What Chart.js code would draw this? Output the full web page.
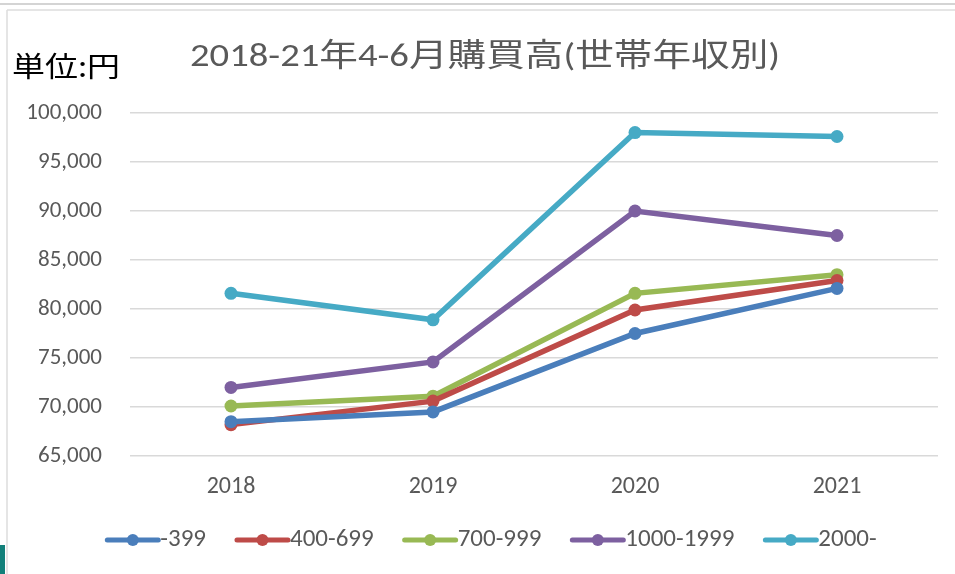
<!DOCTYPE html>
<html>
<head>
<meta charset="utf-8">
<script src="https://cdn.jsdelivr.net/npm/chart.js@4.4.1/dist/chart.umd.min.js"></script>
<style>
  html, body { margin: 0; padding: 0; background: #ffffff; }
  #wrap { position: relative; width: 955px; height: 574px; }
  canvas { display: block; }
</style>
</head>
<body>
<div id="wrap"><canvas id="c" width="955" height="574"></canvas></div>
<script>
// ---- data ----
const years = ['2018', '2019', '2020', '2021'];
const seriesNames = ['-399', '400-699', '700-999', '1000-1999', '2000-'];
const s399 = [68500, 69500, 77500, 82100];
const s400_699 = [68200, 70600, 79900, 82900];
const s700_999 = [70100, 71100, 81600, 83500];
const s1000_1999 = [72000, 74600, 90000, 87500];
const s2000 = [81600, 78900, 98000, 97600];
const yTicks = [65000, 70000, 75000, 80000, 85000, 90000, 95000, 100000];
const titleText = '2018-21年4-6月購買高(世帯年収別)';
const unitText = '単位:円';

const seriesValues = [s399, s400_699, s700_999, s1000_1999, s2000];
const colors = ['#4A7EBB', '#BE4B48', '#98B954', '#7D60A0', '#46AAC5'];
const FONT = "Carlito, 'Liberation Sans Narrow', 'Noto Sans', sans-serif";
const TEXT = '#595959';

function fitText(ctx, text, x, y, targetW, align) {
  const w = ctx.measureText(text).width;
  const sx = targetW / w;
  ctx.save();
  ctx.translate(x, y);
  ctx.scale(sx, 1);
  ctx.textAlign = align;
  ctx.fillText(text, 0, 0);
  ctx.restore();
}

const decor = {
  id: 'decor',
  beforeDraw(chart) {
    const ctx = chart.ctx;
    ctx.save();
    ctx.fillStyle = '#ffffff';
    ctx.fillRect(0, 0, chart.width, chart.height);
    ctx.strokeStyle = '#d4d4d4';
    ctx.lineWidth = 2;
    ctx.beginPath(); ctx.moveTo(0, 4); ctx.lineTo(955, 4); ctx.stroke();
    ctx.strokeStyle = '#dcdcdc';
    ctx.lineWidth = 1.5;
    ctx.beginPath(); ctx.moveTo(7, 10); ctx.lineTo(955, 10); ctx.stroke();
    ctx.beginPath(); ctx.moveTo(7, 10); ctx.lineTo(7, 574); ctx.stroke();
    ctx.fillStyle = '#12807a';
    ctx.fillRect(0, 545, 5, 29);
    ctx.restore();
  },
  afterDraw(chart) {
    const ctx = chart.ctx;
    ctx.save();
    // title
    ctx.fillStyle = TEXT;
    ctx.textBaseline = 'middle';
    ctx.font = "32px " + FONT.replace("sans-serif", "'Noto Sans CJK JP', sans-serif");
    fitText(ctx, titleText, 190, 58, 590, 'left');
    // unit label
    ctx.fillStyle = '#000000';
    ctx.font = "28px 'Noto Sans CJK JP', sans-serif";
    fitText(ctx, unitText, 12, 66, 108, 'left');
    // legend
    ctx.font = '25px ' + FONT;
    const lineW = 55, gap = 29;
    const items = chart.data.datasets.map(d => ({ label: d.label, color: d.borderColor, tw: ctx.measureText(d.label).width }));
    let total = 0;
    items.forEach((it, i) => { total += lineW + it.tw + (i < items.length - 1 ? gap : 0); });
    let x = 491 - total / 2;
    const y = 540;
    items.forEach(it => {
      ctx.strokeStyle = it.color;
      ctx.lineWidth = 5;
      ctx.lineCap = 'round';
      ctx.beginPath(); ctx.moveTo(x + 2, y); ctx.lineTo(x + lineW - 2, y); ctx.stroke();
      ctx.fillStyle = it.color;
      ctx.beginPath(); ctx.arc(x + lineW / 2, y, 6, 0, Math.PI * 2); ctx.fill();
      ctx.fillStyle = TEXT;
      ctx.textAlign = 'left';
      ctx.textBaseline = 'middle';
      ctx.fillText(it.label, x + lineW, y);
      x += lineW + it.tw + gap;
    });
    ctx.restore();
  }
};

new Chart(document.getElementById('c'), {
  type: 'line',
  data: {
    labels: years,
    datasets: seriesNames.map((name, i) => ({
      label: name,
      data: seriesValues[i],
      borderColor: colors[i],
      backgroundColor: colors[i],
      pointBackgroundColor: colors[i],
      pointBorderWidth: 0,
      pointRadius: 6.5,
      borderWidth: 5.5,
      tension: 0,
      fill: false
    }))
  },
  options: {
    responsive: false,
    animation: false,
    devicePixelRatio: 1,
    layout: { padding: { top: 113, right: 17, left: 0, bottom: 0 } },
    plugins: { legend: { display: false }, title: { display: false }, tooltip: { enabled: false } },
    scales: {
      x: {
        offset: true,
        grid: { display: false, drawTicks: false },
        border: { display: false },
        ticks: { color: TEXT, font: { family: FONT, size: 24 }, padding: 17 },
        afterFit(scale) { scale.height = 118; }
      },
      y: {
        min: 65000,
        max: 100000,
        afterBuildTicks(scale) { scale.ticks = yTicks.map(v => ({ value: v })); },
        grid: { color: '#d9d9d9', lineWidth: 1.5, drawTicks: false },
        border: { display: false },
        ticks: {
          color: TEXT,
          font: { family: FONT, size: 23 },
          padding: 28,
          callback: v => v.toLocaleString('en-US')
        },
        afterFit(scale) { scale.width = 130; }
      }
    }
  },
  plugins: [decor]
});
</script>
</body>
</html>
